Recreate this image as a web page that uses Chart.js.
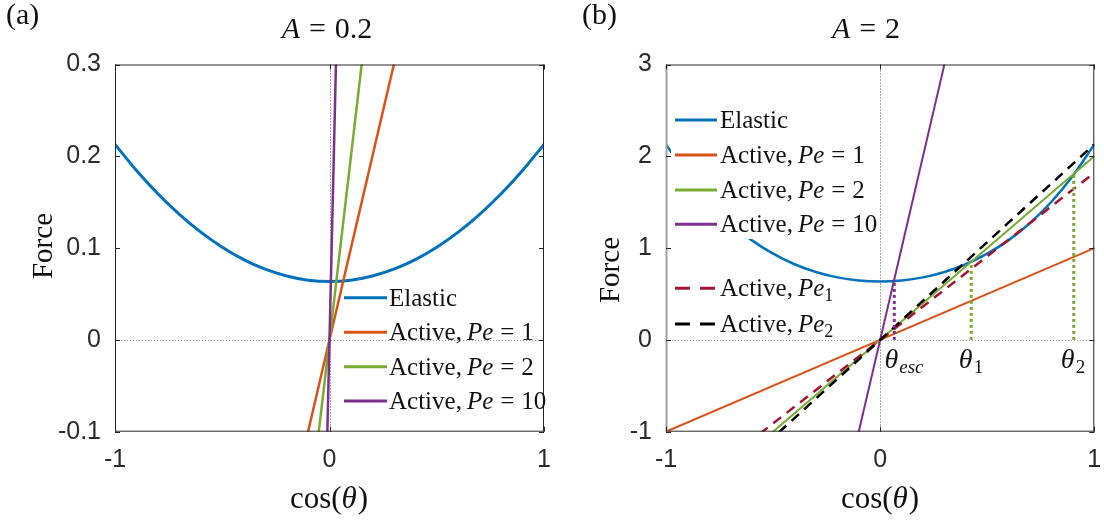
<!DOCTYPE html>
<html>
<head>
<meta charset="utf-8">
<script src="https://cdn.jsdelivr.net/npm/chart.js@4.4.1/dist/chart.umd.min.js"></script>
<style>
  html, body { margin: 0; padding: 0; background: #fff; }
  body { width: 1104px; height: 521px; position: relative; overflow: hidden; }
  canvas { position: absolute; top: 0; }
  #panelA { left: 0; }
  #panelB { left: 560px; }
</style>
</head>
<body>
<canvas id="panelA" width="560" height="521"></canvas>
<canvas id="panelB" width="544" height="521"></canvas>
<script>
// ---- data ----
const cosTheta = [-1, -0.9, -0.8, -0.7, -0.6, -0.5, -0.4, -0.3, -0.2, -0.1, 0,
                  0.1, 0.2, 0.3, 0.4, 0.5, 0.6, 0.7, 0.8, 0.9, 1];
// elastic force, A = 0.2
const elasticA02 = [0.2130, 0.1846, 0.1592, 0.1368, 0.1174, 0.1010, 0.0875, 0.0770, 0.0696, 0.0651, 0.0636,
                    0.0651, 0.0696, 0.0770, 0.0875, 0.1010, 0.1174, 0.1368, 0.1592, 0.1846, 0.2130];
// elastic force, A = 2
const elasticA2 = [2.130, 1.788, 1.505, 1.274, 1.087, 0.939, 0.824, 0.740, 0.681, 0.647, 0.636,
                   0.647, 0.681, 0.740, 0.824, 0.939, 1.087, 1.274, 1.505, 1.788, 2.130];

// active force lines (straight, through the origin), end points at cos = -1 and 1
const lineEnds = [-1, 1];
const activePe1 = [-1, 1];
const activePe2 = [-2, 2];
const activePe10 = [-10, 10];
const activePeLow = [-1.82, 1.82];   // Pe_1
const activePeHigh = [-2.13, 2.13];  // Pe_2

// marked crossings (panel b)
const thetaNames = ['esc', '1', '2'];
const thetaCos = [0.066, 0.425, 0.904];
const thetaForce = [0.64, 0.85, 1.81];

// ticks
const xTickVals = [-1, 0, 1];
const xTickLabels = ['-1', '0', '1'];
const yTickValsA = [-0.1, 0, 0.1, 0.2, 0.3];
const yTickLabelsA = ['-0.1', '0', '0.1', '0.2', '0.3'];
const yTickValsB = [-1, 0, 1, 2, 3];
const yTickLabelsB = ['-1', '0', '1', '2', '3'];

// ---- helpers ----
const C = {
  blue: '#0072BD', orange: '#D95319', green: '#77AC30', purple: '#7E2F8E',
  red: '#A2142F', black: '#000000', ink: '#262626'
};
const SERIF = '"Liberation Serif", "DejaVu Serif", serif';

function pts(xs, ys) { return xs.map((x, i) => ({ x: x, y: ys[i] })); }

function fontOf(p) { return (p.i ? 'italic ' : '') + p.s + 'px ' + SERIF; }
function richWidth(ctx, parts) {
  let w = 0;
  for (const p of parts) { ctx.font = fontOf(p); w += ctx.measureText(p.t).width + (p.gap || 0); }
  return w;
}
function drawRich(ctx, x, y, parts, align) {
  const w = richWidth(ctx, parts);
  let cx = align === 'center' ? x - w / 2 : (align === 'right' ? x - w : x);
  ctx.textAlign = 'left';
  ctx.textBaseline = 'alphabetic';
  for (const p of parts) {
    ctx.font = fontOf(p);
    ctx.fillText(p.t, cx, y + (p.dy || 0));
    cx += ctx.measureText(p.t).width + (p.gap || 0);
  }
}
function activeLabel(sub, size) {
  const parts = [{ t: 'Active,', s: size, gap: 5 }, { t: 'Pe', s: size, i: 1 }];
  if (sub.kind === 'eq') {
    parts[1].gap = 7;
    parts.push({ t: '=', s: size, gap: 7 }, { t: sub.v, s: size });
  } else {
    parts.push({ t: sub.v, s: Math.round(size * 0.7), dy: 5 });
  }
  return parts;
}

// ---- decoration plugin: guides, axes box, legend, labels ----
const decor = {
  id: 'decor',
  beforeDatasetsDraw(chart, args, o) {
    const ctx = chart.ctx, a = chart.chartArea;
    const xs = chart.scales.x, ys = chart.scales.y;
    ctx.save();
    ctx.lineWidth = 1;
    ctx.setLineDash([1, 2]);
    ctx.strokeStyle = '#9a9a9a';
    const y0 = Math.round(ys.getPixelForValue(0)) + 0.5;
    ctx.beginPath(); ctx.moveTo(a.left, y0); ctx.lineTo(a.right, y0); ctx.stroke();
    ctx.strokeStyle = '#555';
    const x0 = Math.round(xs.getPixelForValue(0)) + 0.5;
    ctx.beginPath(); ctx.moveTo(x0, a.top); ctx.lineTo(x0, a.bottom); ctx.stroke();
    ctx.restore();
  },
  afterDatasetsDraw(chart, args, o) {
    const ctx = chart.ctx, a = chart.chartArea;
    const xs = chart.scales.x, ys = chart.scales.y;
    ctx.save();
    // legend background (panel b)
    if (o.legendBox) {
      const b = o.legendBox;
      ctx.fillStyle = '#fff';
      ctx.fillRect(b[0] - o.ox, b[1], b[2] - b[0], b[3] - b[1]);
    }
    // axes box
    ctx.setLineDash([]);
    ctx.lineWidth = 1;
    ctx.strokeStyle = C.ink;
    ctx.beginPath();
    ctx.moveTo(a.left, a.top + 0.5); ctx.lineTo(a.right, a.top + 0.5);
    ctx.moveTo(a.right - 0.5, a.top); ctx.lineTo(a.right - 0.5, a.bottom);
    ctx.moveTo(a.left, a.bottom - 0.5); ctx.lineTo(a.right, a.bottom - 0.5);
    ctx.stroke();
    ctx.strokeStyle = o.leftAxisColor || C.ink;
    ctx.lineWidth = o.leftAxisWidth || 1;
    ctx.beginPath(); ctx.moveTo(a.left + 0.5, a.top); ctx.lineTo(a.left + 0.5, a.bottom); ctx.stroke();
    // inward tick marks
    ctx.strokeStyle = C.ink;
    ctx.lineWidth = 1;
    ctx.beginPath();
    for (const v of o.yTicks) {
      const py = Math.round(ys.getPixelForValue(v)) + 0.5;
      ctx.moveTo(a.left, py); ctx.lineTo(a.left + 5, py);
      ctx.moveTo(a.right, py); ctx.lineTo(a.right - 5, py);
    }
    for (const v of xTickVals) {
      const px = Math.round(xs.getPixelForValue(v)) + 0.5;
      ctx.moveTo(px, a.bottom); ctx.lineTo(px, a.bottom - 5);
      ctx.moveTo(px, a.top); ctx.lineTo(px, a.top + 5);
    }
    ctx.stroke();

    // legend entries
    for (const e of o.legend) {
      ctx.strokeStyle = e.color;
      ctx.lineWidth = e.width;
      ctx.setLineDash(e.dash || []);
      ctx.beginPath();
      ctx.moveTo(o.legendLine[0] - o.ox, e.y);
      ctx.lineTo(o.legendLine[1] - o.ox, e.y);
      ctx.stroke();
      ctx.setLineDash([]);
      ctx.fillStyle = '#111';
      drawRich(ctx, o.legendText - o.ox, e.y + 8, e.parts, 'left');
    }
    ctx.restore();
  },
  afterDraw(chart, args, o) {
    const ctx = chart.ctx;
    ctx.save();
    ctx.fillStyle = '#111';
    // panel letter
    drawRich(ctx, o.letter[0] - o.ox, o.letter[1], [{ t: o.letter[2], s: 30 }], 'left');
    // title
    drawRich(ctx, o.title[0] - o.ox, o.title[1], o.title[2], 'center');
    // x label
    drawRich(ctx, o.xLabel[0] - o.ox, o.xLabel[1],
      [{ t: 'cos(', s: 31 }, { t: 'θ', s: 31, i: 1, gap: 1 }, { t: ')', s: 31 }], 'center');
    // y label
    ctx.translate(o.yLabel[0] - o.ox, o.yLabel[1]);
    ctx.rotate(-Math.PI / 2);
    drawRich(ctx, 0, 0, [{ t: 'Force', s: 29 }], 'center');
    ctx.restore();
    // crossing labels
    if (o.thetaLabels) {
      ctx.save();
      ctx.fillStyle = '#111';
      for (const t of o.thetaLabels) {
        const subItalic = t.sub === 'esc';
        drawRich(ctx, t.x - o.ox, 368,
          [{ t: 'θ', s: 28, i: 1, gap: 1 }, { t: t.sub, s: 19, i: subItalic ? 1 : 0, dy: 5 }], 'center');
      }
      ctx.restore();
    }
  }
};

function lineDs(xs, ys, color, width, order, extra) {
  return Object.assign({
    data: pts(xs, ys), showLine: true, borderColor: color, backgroundColor: color,
    borderWidth: width, pointRadius: 0, order: order, fill: false
  }, extra || {});
}

function scales(yMin, yMax, yVals, yLabels, yAxisWidth) {
  const tickFont = { family: '"Liberation Sans", Arial, sans-serif', size: 25 };
  return {
    x: {
      type: 'linear', min: -1, max: 1,
      afterBuildTicks: s => { s.ticks = xTickVals.map(v => ({ value: v })); },
      afterFit: s => { s.height = 521 - 431.7; s.paddingLeft = 0; s.paddingRight = 0; },
      grid: { display: false, drawTicks: false }, border: { display: false },
      ticks: { padding: 13, font: tickFont, color: '#2b2b2b', maxRotation: 0, autoSkip: false,
               callback: (v, i) => xTickLabels[i] }
    },
    y: {
      type: 'linear', min: yMin, max: yMax,
      afterBuildTicks: s => { s.ticks = yVals.map(v => ({ value: v })); },
      afterFit: s => { s.width = yAxisWidth; s.paddingTop = 0; s.paddingBottom = 0; },
      grid: { display: false, drawTicks: false }, border: { display: false },
      ticks: { padding: 14, font: tickFont, color: '#2b2b2b', autoSkip: false,
               callback: (v, i) => yLabels[i] }
    }
  };
}

// ---- panel (a): A = 0.2 ----
new Chart(document.getElementById('panelA'), {
  type: 'scatter',
  data: {
    datasets: [
      lineDs(cosTheta, elasticA02, C.blue, 3, 4, { cubicInterpolationMode: 'monotone' }),
      lineDs(lineEnds, activePe1, C.orange, 2.5, 3),
      lineDs(lineEnds, activePe2, C.green, 2.5, 2),
      lineDs(lineEnds, activePe10, C.purple, 2.5, 1)
    ]
  },
  options: {
    responsive: false, animation: false, devicePixelRatio: 1,
    layout: { padding: { top: 64.5, right: 16, left: 0, bottom: 0 } },
    plugins: {
      legend: { display: false }, tooltip: { enabled: false },
      decor: {
        ox: 0,
        yTicks: yTickValsA,
        letter: [6, 24, '(a)'],
        title: [327, 38, [{ t: 'A', s: 30, i: 1, gap: 9 }, { t: '=', s: 30, gap: 9 }, { t: '0.2', s: 30 }]],
        xLabel: [329, 508],
        yLabel: [52, 246],
        legendLine: [344, 387],
        legendText: 389,
        legend: [
          { y: 297.7, color: C.blue, width: 3, parts: [{ t: 'Elastic', s: 25 }] },
          { y: 332.3, color: C.orange, width: 3, parts: activeLabel({ kind: 'eq', v: '1' }, 25) },
          { y: 366.7, color: C.green, width: 3, parts: activeLabel({ kind: 'eq', v: '2' }, 25) },
          { y: 401, color: C.purple, width: 3, parts: activeLabel({ kind: 'eq', v: '10' }, 25) }
        ]
      }
    },
    scales: scales(-0.1, 0.3, yTickValsA, yTickLabelsA, 115)
  },
  plugins: [decor]
});

// ---- panel (b): A = 2 ----
const thetaSets = thetaCos.map((c, i) =>
  lineDs([c, c], [0, thetaForce[i]], i === 0 ? C.purple : C.green, 3, 0, { borderDash: [3, 3] }));

new Chart(document.getElementById('panelB'), {
  type: 'scatter',
  data: {
    datasets: [
      lineDs(cosTheta, elasticA2, C.blue, 2.5, 6, { cubicInterpolationMode: 'monotone' }),
      lineDs(lineEnds, activePe1, C.orange, 2, 5),
      lineDs(lineEnds, activePe2, C.green, 2, 4),
      lineDs(lineEnds, activePe10, C.purple, 2, 3),
      lineDs(lineEnds, activePeLow, C.red, 2.5, 2, { borderDash: [10, 7] }),
      lineDs(lineEnds, activePeHigh, C.black, 2.5, 1, { borderDash: [10, 7] })
    ].concat(thetaSets)
  },
  options: {
    responsive: false, animation: false, devicePixelRatio: 1,
    layout: { padding: { top: 64.5, right: 9.7, left: 0, bottom: 0 } },
    plugins: {
      legend: { display: false }, tooltip: { enabled: false },
      decor: {
        ox: 560,
        yTicks: yTickValsB,
        leftAxisColor: '#a0a0a0', leftAxisWidth: 2,
        letter: [582, 24, '(b)'],
        title: [866, 38, [{ t: 'A', s: 30, i: 1, gap: 9 }, { t: '=', s: 30, gap: 9 }, { t: '2', s: 30 }]],
        xLabel: [880, 508],
        yLabel: [619, 270],
        legendBox: [671, 104, 878, 239],
        legendLine: [675, 717],
        legendText: 720,
        legend: [
          { y: 120, color: C.blue, width: 3, parts: [{ t: 'Elastic', s: 25 }] },
          { y: 155, color: C.orange, width: 3, parts: activeLabel({ kind: 'eq', v: '1' }, 25) },
          { y: 190, color: C.green, width: 3, parts: activeLabel({ kind: 'eq', v: '2' }, 25) },
          { y: 224.3, color: C.purple, width: 3, parts: activeLabel({ kind: 'eq', v: '10' }, 25) },
          { y: 288.3, color: C.red, width: 3, dash: [15, 10], parts: activeLabel({ kind: 'sub', v: '1' }, 25) },
          { y: 324, color: C.black, width: 3, dash: [15, 10], parts: activeLabel({ kind: 'sub', v: '2' }, 25) }
        ],
        thetaLabels: [
          { x: 904, sub: thetaNames[0] },
          { x: 971, sub: thetaNames[1] },
          { x: 1073, sub: thetaNames[2] }
        ]
      }
    },
    scales: scales(-1, 3, yTickValsB, yTickLabelsB, 106)
  },
  plugins: [decor]
});
</script>
</body>
</html>
